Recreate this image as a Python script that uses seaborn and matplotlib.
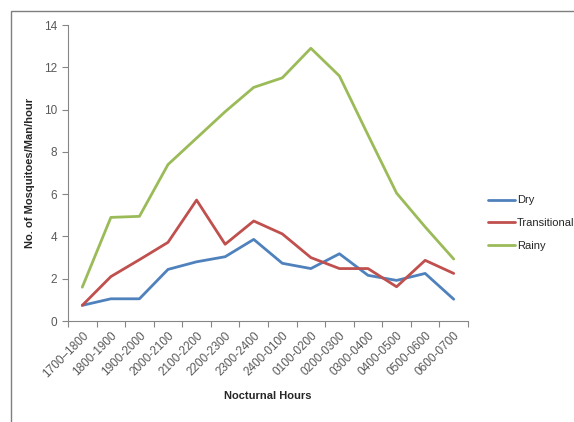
import matplotlib
matplotlib.use("Agg")
import matplotlib.pyplot as plt
import seaborn as sns
import pandas as pd
from matplotlib.patches import Rectangle

hours = ["1700–1800", "1800-1900", "1900-2000", "2000-2100", "2100-2200", "2200-2300",
         "2300-2400", "2400-0100", "0100-0200", "0200-0300", "0300-0400", "0400-0500",
         "0500-0600", "0600-0700"]
dry = [0.74, 1.05, 1.05, 2.44, 2.8, 3.04, 3.86, 2.73, 2.48, 3.18, 2.16, 1.92, 2.25, 1.03]
transitional = [0.74, 2.1, 2.9, 3.72, 5.72, 3.63, 4.73, 4.12, 3.0, 2.48, 2.48, 1.62, 2.87, 2.25]
rainy = [1.6, 4.9, 4.95, 7.4, 8.65, 9.9, 11.05, 11.5, 12.9, 11.59, 8.8, 6.05, 4.45, 2.93]
series = ["Dry", "Transitional", "Rainy"]
colors = ["#4F81BD", "#C0504D", "#9BBB59"]

rows = []
for name, vals in zip(series, [dry, transitional, rainy]):
    for i, (h, v) in enumerate(zip(hours, vals)):
        rows.append({"pos": i, "hour": h, "value": v, "season": name})
df = pd.DataFrame(rows)

sns.set_style("white")
plt.rcParams["font.family"] = ["Liberation Sans", "DejaVu Sans"]

fig = plt.figure(figsize=(5.74, 4.22), dpi=100)
ax = fig.add_axes([68/574, (422-321)/422, 400/574, (321-25)/422])

sns.lineplot(data=df, x="pos", y="value", hue="season", hue_order=series,
             palette=colors, linewidth=2, ax=ax, legend=False)

ax.set_xlim(-0.5, len(hours) - 0.5)
ax.set_ylim(0, 14)
ax.set_yticks(range(0, 15, 2))
ax.set_xticks([i - 0.5 for i in range(len(hours) + 1)])
ax.set_xticklabels([])
ax.set_xticks(range(len(hours)), minor=True)
ax.set_xticklabels(hours, minor=True, rotation=45, ha="right", va="top",
                   rotation_mode="anchor", fontsize=8.5, color="#595959")
ax.tick_params(axis="x", which="minor", length=0, pad=6)
ax.tick_params(axis="x", which="major", length=4, color="#868686", direction="out")
ax.tick_params(axis="y", length=4, color="#868686", direction="out", labelsize=8.5,
               labelcolor="#595959", pad=4)
ax.tick_params(bottom=True, left=True)

for s in ["top", "right"]:
    ax.spines[s].set_visible(False)
for s in ["left", "bottom"]:
    ax.spines[s].set_color("#868686")
    ax.spines[s].set_linewidth(0.8)

ax.set_xlabel("Nocturnal Hours", fontsize=8, fontweight="bold", labelpad=8)
ax.set_ylabel("No. of Mosquitoes/Man/hour", fontsize=8, fontweight="bold", labelpad=6)

handles = [plt.Line2D([], [], color=c, linewidth=2) for c in colors]
fig.legend(handles, series, loc="upper left", bbox_to_anchor=(484/574, 1 - 191/422),
           frameon=False, fontsize=8, handlelength=2.4, handletextpad=0.15,
           labelspacing=1.15, borderaxespad=0)

fig.patches.append(Rectangle((11/574, -0.05), 1.2, 1 - 11/422 + 0.05,
                             transform=fig.transFigure, fill=False,
                             edgecolor="#7f7f7f", linewidth=1.0))

fig.savefig("out.png", dpi=100)
